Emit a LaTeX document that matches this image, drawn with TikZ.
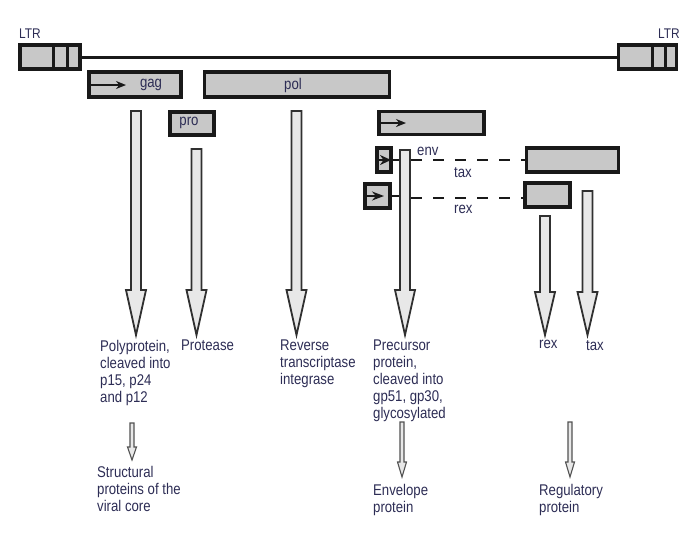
\documentclass[tikz,border=0pt]{standalone}
\usepackage{fontspec}
\setmainfont{Liberation Sans}[FakeStretch=0.85]
\usetikzlibrary{arrows.meta}
\definecolor{txt}{RGB}{45,45,85}
\definecolor{boxfill}{RGB}{200,200,200}
\definecolor{arrfill}{RGB}{232,232,232}
\definecolor{edgec}{RGB}{25,25,25}
\newcommand{\fatarrow}[4]{\draw[fatarr] (#1-5,#2) -- (#1+5,#2) -- (#1+5,#3) -- (#1+10,#3) -- (#1,#4) -- (#1-10,#3) -- (#1-5,#3) -- cycle;}
\newcommand{\thinarrow}[4]{\draw[thinarr] (#1-2,#2) -- (#1+2,#2) -- (#1+2,#3) -- (#1+4.5,#3) -- (#1,#4) -- (#1-4.5,#3) -- (#1-2,#3) -- cycle;}
\tikzset{
  gene/.style={draw=edgec, line width=3.4pt, fill=boxfill, inner sep=0pt, outer sep=0pt},
  fatarr/.style={draw=edgec!90, line width=1.8pt, fill=arrfill, line join=miter},
  thinarr/.style={draw=edgec!75, line width=1.1pt, fill=arrfill},
  lbl/.style={text=txt, font=\fontsize{15.5}{17}\selectfont, inner sep=0pt, align=left},
  inarrow/.style={line width=1.8pt, draw=edgec, -{Stealth[length=10pt,width=8pt]}},
  dashline/.style={line width=2.2pt, draw=edgec, dash pattern=on 11pt off 11pt},
}
\begin{document}
\begin{tikzpicture}[x=1pt,y=-1pt]
\useasboundingbox (0,0) rectangle (700,542);
% LTR boxes and genome line
\node[gene, minimum width=60, minimum height=24] (ltrl) at (50,57) {};
\draw[edgec, line width=3pt] (53,44) -- (53,70) (67,44) -- (67,70);
\node[gene, minimum width=58, minimum height=24] (ltrr) at (647.5,57) {};
\draw[edgec, line width=3pt] (652,44) -- (652,70) (665,44) -- (665,70);
\draw[edgec, line width=3pt] (ltrl.east) -- (ltrr.west);
\node[lbl, anchor=base west, font=\fontsize{14}{16}\selectfont] (ltrlt) at (19,38) {LTR};
\node[lbl, anchor=base east, font=\fontsize{14}{16}\selectfont] (ltrrt) at (680,38) {LTR};
% gene boxes
\node[gene, minimum width=92, minimum height=25] (gag) at (135,84.5) {};
\draw[inarrow] (90,85) -- (126,85);
\node[lbl] (gagt) at (151,85) {gag};
\node[gene, minimum width=185, minimum height=25] (pol) at (297,84.5) {};
\node[lbl] (polt) at (293,85) {pol};
\node[gene, minimum width=44, minimum height=23] (pro) at (192,123.5) {};
\node[lbl] (prot) at (189,123) {pro};
\node[gene, minimum width=105, minimum height=23] (envb) at (431.5,123) {};
\draw[inarrow] (380,123) -- (406,123);
\node[gene, minimum width=14, minimum height=24] (envs) at (384,160) {};
\draw[inarrow, -{Stealth[length=11pt,width=10pt]}] (377,160) -- (391,160);
\node[gene, minimum width=25, minimum height=24] (rexs) at (377.5,196) {};
\draw[inarrow, -{Stealth[length=12pt,width=9pt]}] (365,196) -- (384,196);
\node[gene, minimum width=92, minimum height=24] (taxb) at (572.5,160) {};
\node[gene, minimum width=45, minimum height=24] (rexb) at (547.5,195) {};
% connectors between small boxes and the env shaft
\draw[edgec, line width=2pt] (envs.east) -- (401,160);
\draw[edgec, line width=2pt] (rexs.east) -- (401,196);
\draw[dashline] (411,160) -- (taxb.west);
\draw[dashline] (411,198) -- (rexb.west |- 0,198);
\node[lbl, anchor=base west] (envt) at (417,155) {env};
\node[lbl, anchor=base west] (taxt) at (454,177) {tax};
\node[lbl, anchor=base west] (rext) at (454,213) {rex};
% big arrows
\fatarrow{136}{111}{290}{335}
\fatarrow{196.5}{149}{290}{335}
\fatarrow{296.5}{111}{290}{335}
\fatarrow{405}{150}{290}{335}
\fatarrow{545}{216}{292}{335}
\fatarrow{587.5}{191}{292}{335}
% product labels
\node[lbl, anchor=north west] (poly) at (100,340) {Polyprotein,\\cleaved into\\p15, p24\\and p12};
\node[lbl, anchor=north west] (prote) at (181,340) {Protease};
\node[lbl, anchor=north west] (rt) at (280,340) {Reverse\\transcriptase\\integrase};
\node[lbl, anchor=north west] (prec) at (373,340) {Precursor\\protein,\\cleaved into\\gp51, gp30,\\glycosylated};
\node[lbl, anchor=north west] (rexl) at (539,340) {rex};
\node[lbl, anchor=north west] (taxl) at (586,340) {tax};
% small arrows
\thinarrow{132}{423}{447}{460}
\thinarrow{402}{422}{462}{477}
\thinarrow{570}{422}{462}{477}
\node[lbl, anchor=north west] (struct) at (97,466) {Structural\\proteins of the\\viral core};
\node[lbl, anchor=north west] (envp) at (373,484) {Envelope\\protein};
\node[lbl, anchor=north west] (regp) at (539,484) {Regulatory\\protein};
\end{tikzpicture}
\end{document}
